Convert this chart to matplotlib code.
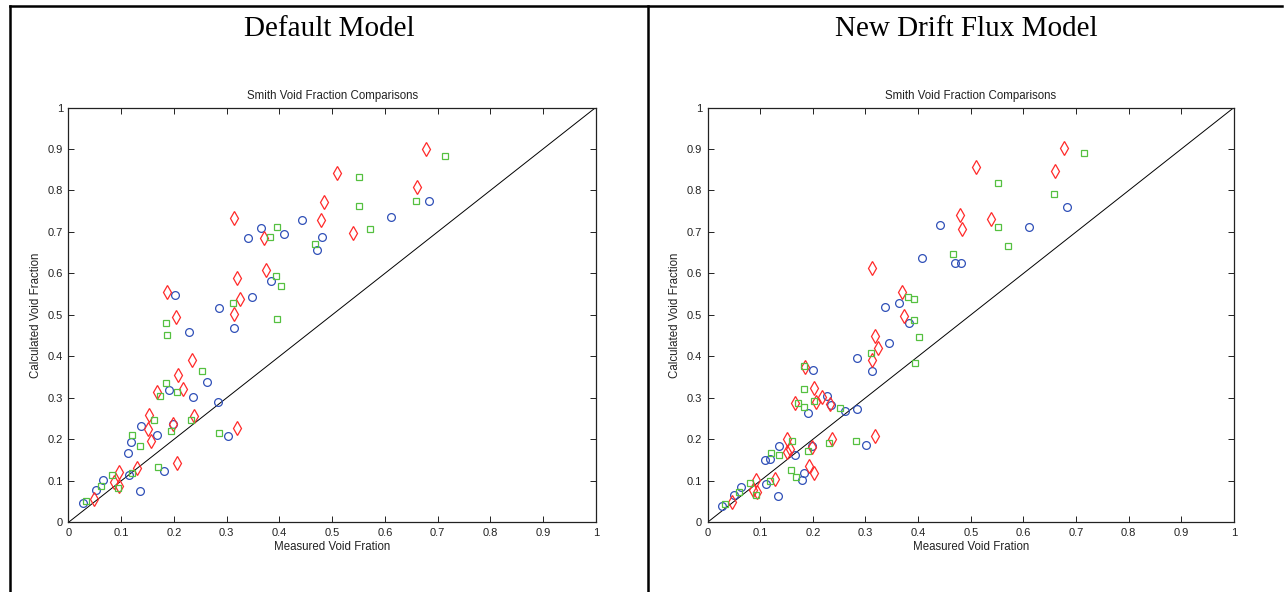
import matplotlib
matplotlib.use('Agg')
import matplotlib.pyplot as plt
from matplotlib.lines import Line2D

# Default model (left panel)
def_blue_x = [0.028, 0.052, 0.065, 0.112, 0.119, 0.114, 0.137, 0.136, 0.168, 0.181, 0.191, 0.199, 0.202, 0.228, 0.237,
              0.263, 0.283, 0.286, 0.302, 0.314, 0.348, 0.384, 0.340, 0.365, 0.409, 0.442, 0.481, 0.471, 0.611, 0.684]
def_blue_y = [0.047, 0.079, 0.101, 0.167, 0.194, 0.113, 0.233, 0.076, 0.211, 0.124, 0.319, 0.237, 0.549, 0.458, 0.303,
              0.339, 0.290, 0.516, 0.208, 0.469, 0.543, 0.581, 0.685, 0.709, 0.695, 0.729, 0.688, 0.656, 0.737, 0.775]
def_red_x = [0.049, 0.086, 0.095, 0.096, 0.130, 0.151, 0.152, 0.157, 0.168, 0.186, 0.199, 0.204, 0.205, 0.207, 0.218,
             0.234, 0.239, 0.313, 0.320, 0.325, 0.314, 0.320, 0.371, 0.374, 0.510, 0.484, 0.479, 0.539, 0.661, 0.678]
def_red_y = [0.056, 0.096, 0.122, 0.088, 0.130, 0.224, 0.258, 0.196, 0.314, 0.556, 0.236, 0.496, 0.143, 0.356, 0.321,
             0.391, 0.256, 0.503, 0.228, 0.539, 0.733, 0.589, 0.685, 0.609, 0.841, 0.772, 0.729, 0.697, 0.809, 0.899]
def_green_x = [0.034, 0.061, 0.082, 0.093, 0.121, 0.120, 0.136, 0.162, 0.169, 0.173, 0.184, 0.184, 0.186, 0.194, 0.205,
               0.232, 0.254, 0.285, 0.312, 0.395, 0.383, 0.393, 0.404, 0.396, 0.467, 0.551, 0.551, 0.571, 0.659, 0.715]
def_green_y = [0.052, 0.088, 0.113, 0.082, 0.211, 0.120, 0.183, 0.247, 0.133, 0.305, 0.337, 0.480, 0.451, 0.221, 0.314,
               0.246, 0.364, 0.216, 0.528, 0.713, 0.688, 0.593, 0.570, 0.489, 0.671, 0.833, 0.763, 0.706, 0.775, 0.883]

# New drift flux model (right panel)
new_blue_x = [0.028, 0.050, 0.064, 0.110, 0.118, 0.112, 0.136, 0.134, 0.166, 0.179, 0.184, 0.190, 0.201, 0.198, 0.227, 0.235,
              0.262, 0.283, 0.284, 0.301, 0.313, 0.338, 0.344, 0.364, 0.382, 0.408, 0.441, 0.471, 0.482, 0.611, 0.683]
new_blue_y = [0.040, 0.067, 0.085, 0.151, 0.152, 0.093, 0.184, 0.063, 0.163, 0.102, 0.118, 0.264, 0.368, 0.184, 0.304, 0.284,
              0.269, 0.273, 0.397, 0.187, 0.365, 0.519, 0.433, 0.529, 0.481, 0.636, 0.717, 0.626, 0.626, 0.712, 0.760]
new_red_x = [0.047, 0.086, 0.093, 0.094, 0.129, 0.151, 0.151, 0.156, 0.167, 0.185, 0.193, 0.199, 0.203, 0.202, 0.206, 0.217,
             0.233, 0.237, 0.312, 0.319, 0.323, 0.319, 0.313, 0.369, 0.373, 0.479, 0.484, 0.510, 0.539, 0.660, 0.678]
new_red_y = [0.048, 0.079, 0.101, 0.073, 0.105, 0.170, 0.201, 0.176, 0.287, 0.374, 0.135, 0.182, 0.118, 0.324, 0.289, 0.301,
             0.285, 0.201, 0.391, 0.449, 0.420, 0.208, 0.614, 0.556, 0.497, 0.741, 0.707, 0.856, 0.731, 0.846, 0.903]
new_green_x = [0.033, 0.060, 0.081, 0.092, 0.120, 0.119, 0.135, 0.161, 0.158, 0.168, 0.171, 0.183, 0.183, 0.184, 0.191, 0.202,
               0.231, 0.252, 0.282, 0.310, 0.381, 0.392, 0.392, 0.402, 0.394, 0.466, 0.551, 0.551, 0.571, 0.659, 0.715]
new_green_y = [0.044, 0.074, 0.094, 0.067, 0.166, 0.099, 0.163, 0.196, 0.125, 0.109, 0.287, 0.279, 0.321, 0.376, 0.171, 0.292,
               0.192, 0.275, 0.197, 0.408, 0.543, 0.539, 0.487, 0.446, 0.383, 0.648, 0.818, 0.712, 0.665, 0.792, 0.891]

ticks = [0, 0.1, 0.2, 0.3, 0.4, 0.5, 0.6, 0.7, 0.8, 0.9, 1]
tick_labels = ['0', '0.1', '0.2', '0.3', '0.4', '0.5', '0.6', '0.7', '0.8', '0.9', '1']

plt.rcParams['font.family'] = ['Liberation Sans', 'DejaVu Sans']

fig = plt.figure(figsize=(12.85, 5.92), dpi=100)

def painel(pos, bx, by, rx, ry, gx, gy):
    ax = fig.add_axes(pos)
    ax.plot([0, 1], [0, 1], color='black', lw=0.7)
    ax.plot(bx, by, 'o', mfc='none', mec='#3050b8', ms=5.6, mew=0.9, ls='none')
    ax.plot(rx, ry, 'd', mfc='none', mec='#ff2a2a', ms=7, mew=0.9, ls='none')
    ax.plot(gx, gy, 's', mfc='none', mec='#55c040', ms=4.4, mew=0.9, ls='none')
    ax.set_xlim(0, 1)
    ax.set_ylim(0, 1)
    ax.set_xticks(ticks)
    ax.set_yticks(ticks)
    ax.set_xticklabels(tick_labels)
    ax.set_yticklabels(tick_labels)
    ax.tick_params(direction='in', top=True, right=True, length=4, width=0.7,
                   labelsize=8, pad=4, colors='#222222')
    for s in ax.spines.values():
        s.set_linewidth(0.9)
        s.set_color('#222222')
    ax.set_title('Smith Void Fraction Comparisons', fontsize=8.3, pad=6, color='#222222')
    ax.set_xlabel('Measured Void Fration', fontsize=8.3, labelpad=2, color='#222222')
    ax.set_ylabel('Calculated Void Fraction', fontsize=8.3, labelpad=4, color='#222222')
    return ax

painel([0.0533, 0.1177, 0.4103, 0.7007], def_blue_x, def_blue_y, def_red_x, def_red_y, def_green_x, def_green_y)
painel([0.5506, 0.1177, 0.4097, 0.7007], new_blue_x, new_blue_y, new_red_x, new_red_y, new_green_x, new_green_y)

# moldura da tabela
fig.add_artist(Line2D([0.008, 0.008], [0, 0.99], color='black', lw=1.8))
fig.add_artist(Line2D([0.5043, 0.5043], [0, 0.99], color='black', lw=1.8))
fig.add_artist(Line2D([0.008, 0.9977], [0.99, 0.99], color='black', lw=1.8))

fig.text(329 / 1285, 1 - 29 / 592, 'Default Model', family='Liberation Serif', fontsize=21, ha='center', va='center')
fig.text(966 / 1285, 1 - 29 / 592, 'New Drift Flux Model', family='Liberation Serif', fontsize=21, ha='center', va='center')

fig.savefig('out.png', dpi=100)
